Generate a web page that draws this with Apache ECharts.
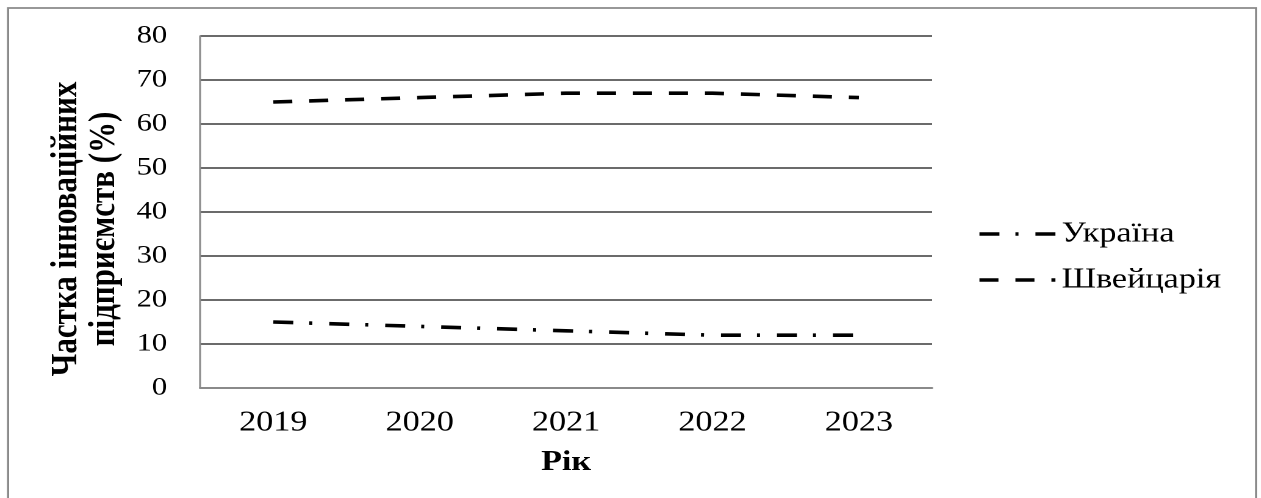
<!DOCTYPE html>
<html>
<head>
<meta charset="utf-8">
<script src="https://cdn.jsdelivr.net/npm/echarts@6/dist/echarts.min.js"></script>
<style>
  html, body { margin: 0; padding: 0; background: #fff; overflow: hidden; }
  /* the chart is laid out on a narrower canvas and widened horizontally,
     giving the broad serif lettering of the figure */
  #chart {
    width: 1034px; height: 498px;
    transform: scaleX(1.22); transform-origin: 0 0;
  }
</style>
</head>
<body>
<div id="chart"></div>
<script>
// Share of innovative enterprises, %
const years = ['2019', '2020', '2021', '2022', '2023'];
const ukraine = [15, 14, 13, 12, 12];
const switzerland = [65, 66, 67, 67, 66];
const yTicks = { min: 0, max: 80, interval: 10 };

const serif = '"Liberation Serif", "Times New Roman", serif';

const chart = echarts.init(document.getElementById('chart'), null, {
  renderer: 'canvas', devicePixelRatio: 2
});

chart.setOption({
  backgroundColor: '#fff',
  animation: false,
  textStyle: { fontFamily: serif, color: '#000' },
  graphic: [{
    type: 'rect',
    shape: { x: 6.6, y: 8, width: 1023, height: 520 },
    style: { fill: 'none', stroke: '#8a8a8a', lineWidth: 1.8 },
    silent: true
  }],
  grid: { left: 164, top: 36, width: 600, height: 352, containLabel: false },
  legend: {
    orient: 'vertical',
    left: 801,
    top: 220,
    padding: 0,
    itemWidth: 62.3,
    itemHeight: 14,
    itemGap: 18,
    itemTextGap: 5,
    itemStyle: { color: 'rgba(0,0,0,0)', borderColor: 'rgba(0,0,0,0)', borderWidth: 0 },
    lineStyle: { width: 3.6 },
    textStyle: { fontFamily: serif, fontSize: 28, color: '#000', lineHeight: 28 },
    data: ['Україна', 'Швейцарія']
  },
  xAxis: {
    type: 'category',
    data: years,
    boundaryGap: true,
    axisLine: { lineStyle: { color: '#8a8a8a', width: 2 } },
    axisTick: { show: false },
    axisLabel: { fontFamily: serif, fontSize: 28, color: '#000', margin: 21 },
    name: 'Рік',
    nameLocation: 'middle',
    nameGap: 61,
    nameTextStyle: { fontFamily: serif, fontSize: 28, fontWeight: 'bold', color: '#000' }
  },
  yAxis: {
    type: 'value',
    min: yTicks.min,
    max: yTicks.max,
    interval: yTicks.interval,
    axisLine: { show: true, lineStyle: { color: '#8a8a8a', width: 1.6 } },
    axisTick: { show: false },
    axisLabel: { fontFamily: serif, fontSize: 25, color: '#000', margin: 27 },
    splitLine: { lineStyle: { color: '#3a3a3a', width: 1.5 } },
    name: 'Частка інноваційних\nпідприємств (%)',
    nameLocation: 'middle',
    nameRotate: 90,
    nameGap: 62,
    nameTextStyle: {
      fontFamily: serif, fontSize: 31, fontWeight: 'bold', color: '#000',
      lineHeight: 31, align: 'center', padding: [0, 34, 0, 0]
    }
  },
  series: [
    {
      name: 'Україна',
      type: 'line',
      data: ukraine,
      symbol: 'none',
      lineStyle: { color: '#000', width: 3.6, type: [16.4, 13.1, 2.5, 13.9], cap: 'butt' },
      itemStyle: { color: '#000' }
    },
    {
      name: 'Швейцарія',
      type: 'line',
      data: switzerland,
      symbol: 'none',
      lineStyle: { color: '#000', width: 3.6, type: [15.6, 13.9], cap: 'butt' },
      itemStyle: { color: '#000' }
    }
  ]
});
</script>
</body>
</html>
